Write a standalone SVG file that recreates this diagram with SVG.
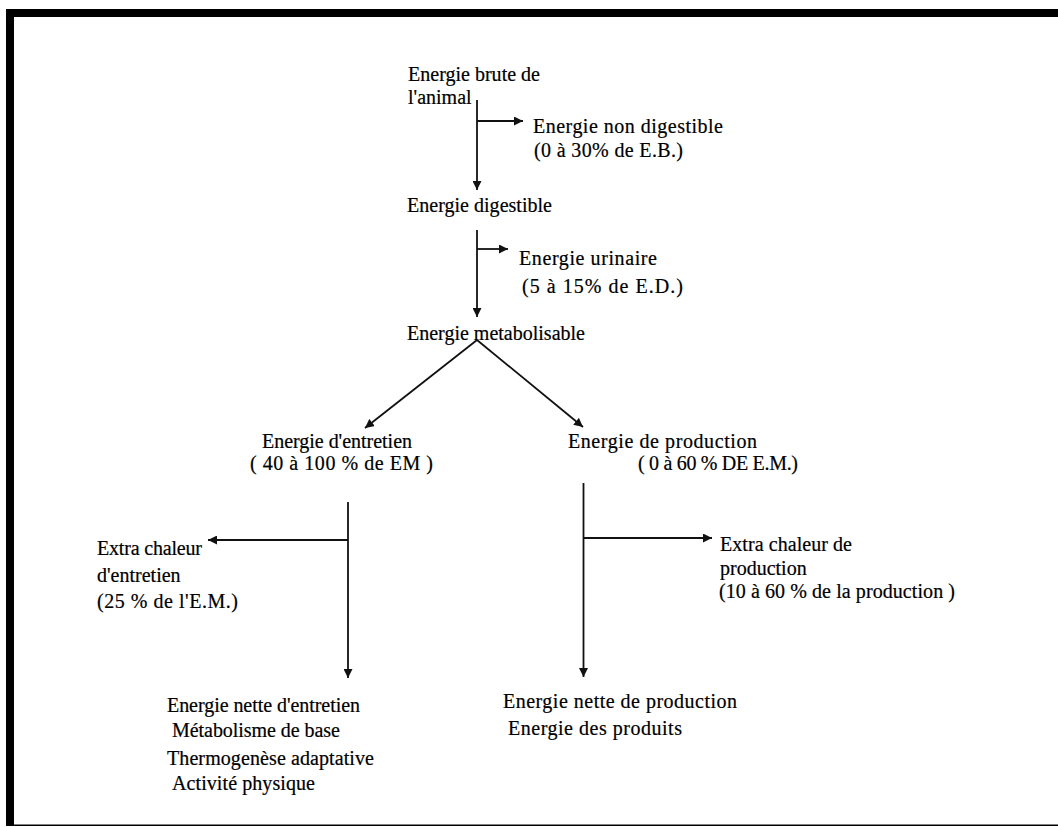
<svg xmlns="http://www.w3.org/2000/svg" width="1058" height="827" viewBox="0 0 1058 827">
<style>
text{font-size:20px;fill:#000;stroke:#000;stroke-width:0.2;}
.c{stroke:#111;stroke-width:1.8;fill:none;marker-end:url(#ah);}
</style>
<defs>
<marker id="ah" viewBox="0 0 10 10" refX="10" refY="5" markerUnits="userSpaceOnUse" markerWidth="9" markerHeight="9" orient="auto">
<path d="M0,0 L10,5 L0,10 z" fill="#111"/>
</marker>
</defs>
<rect width="1058" height="827" fill="#fff"/>
<g id="frame">
<rect x="6" y="9" width="1052" height="8" fill="#000"/>
<rect x="6" y="9" width="8" height="817" fill="#000"/>
<rect x="14" y="824.5" width="1044" height="1.5" fill="#000"/>
</g>
<g id="connectors">
<line class="c" x1="477" y1="100" x2="477" y2="190"/>
<line class="c" x1="477" y1="121" x2="523" y2="121"/>
<line class="c" x1="477" y1="230" x2="477" y2="317"/>
<line class="c" x1="477" y1="249" x2="508" y2="249"/>
<line class="c" x1="477" y1="340" x2="365" y2="428"/>
<line class="c" x1="477" y1="340" x2="583" y2="427"/>
<line class="c" x1="348" y1="502" x2="348" y2="678"/>
<line class="c" x1="348" y1="540" x2="208" y2="540"/>
<line class="c" x1="583.5" y1="483" x2="583.5" y2="677"/>
<line class="c" x1="583.5" y1="538" x2="712" y2="538"/>
</g>
<g font-family="Liberation Serif, Times New Roman, serif">
<g id="n-brute">
<text x="408" y="81" textLength="132">Energie brute de</text>
<text x="408" y="104">l'animal</text>
</g>
<g id="n-nondig">
<text x="533" y="133" textLength="190">Energie non digestible</text>
<text x="534" y="157" textLength="149">(0 à 30% de E.B.)</text>
</g>
<g id="n-dig">
<text x="407" y="212" textLength="145">Energie digestible</text>
</g>
<g id="n-urin">
<text x="519" y="265" textLength="138">Energie urinaire</text>
<text x="522" y="293" textLength="161">(5 à 15% de E.D.)</text>
</g>
<g id="n-metab">
<text x="407" y="340" textLength="178">Energie metabolisable</text>
</g>
<g id="n-entretien">
<text x="262" y="448" textLength="150">Energie d'entretien</text>
<text x="250" y="470" textLength="183">( 40 à 100 % de EM )</text>
</g>
<g id="n-production">
<text x="568" y="448" textLength="189">Energie de production</text>
<text x="638" y="470" textLength="160">( 0 à 60 % DE E.M.)</text>
</g>
<g id="n-extra-entretien">
<text x="97" y="555" textLength="105">Extra chaleur</text>
<text x="97" y="582">d'entretien</text>
<text x="97" y="608" textLength="141">(25 % de l'E.M.)</text>
</g>
<g id="n-extra-production">
<text x="720" y="551" textLength="132">Extra chaleur de</text>
<text x="720" y="575">production</text>
<text x="719" y="598" textLength="236">(10 à 60 % de la production )</text>
</g>
<g id="n-nette-entretien">
<text x="167" y="712" textLength="193">Energie nette d'entretien</text>
<text x="172" y="737" textLength="168">Métabolisme de base</text>
<text x="167" y="765" textLength="207">Thermogenèse adaptative</text>
<text x="172" y="790" textLength="143">Activité physique</text>
</g>
<g id="n-nette-production">
<text x="503" y="708" textLength="234">Energie nette de production</text>
<text x="508" y="735" textLength="174">Energie des produits</text>
</g>
</g>
</svg>
